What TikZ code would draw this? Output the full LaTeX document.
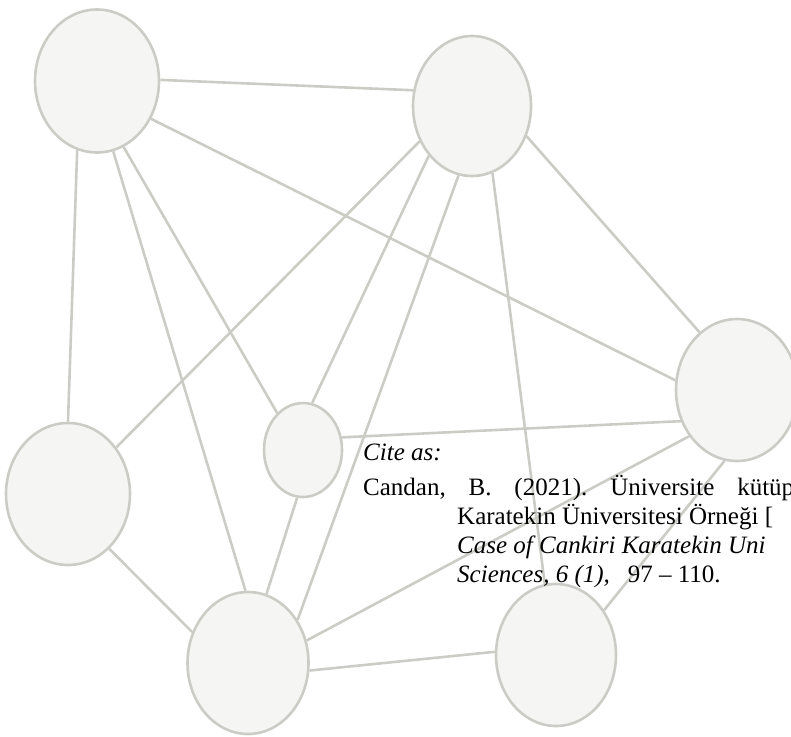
\documentclass[tikz,border=0pt]{standalone}
\usepackage{fontspec}
\setmainfont{Liberation Serif}
\usetikzlibrary{shapes.geometric}
\frenchspacing

\begin{document}
\begin{tikzpicture}[x=1pt,y=-1pt,
  bubble/.style={draw,line width=2.6pt,color=kLine,fill=kFill,ellipse,inner sep=0pt},
  link/.style={draw,line width=2.6pt,color=kLine},
  citeline/.style={anchor=base west,inner sep=0pt,font=\fontsize{25}{29}\selectfont}]
  % colors
  \definecolor{kLine}{rgb}{0.80,0.80,0.78}
  \definecolor{kFill}{rgb}{0.96,0.96,0.955}
  % frame
  \useasboundingbox (0,0) rectangle (791,736);
  \clip (0,0) rectangle (791,736);
  % nodes
  \foreach \n/\x/\y/\w/\h in {A/97/81/124/143, B/472/106/118/140, C/737/390/122/142,
      D/68/494/124/142, E/303/450/78/94, F/248/663/121/142, G/556/655/120/142}
    \node[bubble,minimum width=\w pt,minimum height=\h pt] (\n) at (\x,\y) {};
  % links
  \foreach \a/\b in {A.1/B.165, A.325/C.171, A.254/D.90, A.283/F.92, A.292/E.125,
      B.214/D.44, B.229/E.79, B.259/F.41, B.287/G.99, B.331/C.123,
      E.18/C.209, F.21/C.224, G.43/C.260, F.353/G.177, D.307/F.151, E.263/F.75}
    \draw[link] (\a) -- (\b);
  % citation
  \node[citeline] (cite) at (363,460) {\textit{Cite as:}};
  \node[citeline] (ref1) at (363,495) {\makebox[431pt][s]{Candan, B. (2021). Üniversite kütüp}};
  \node[citeline] (ref2) at (457,524) {Karatekin Üniversitesi Örneği [};
  \node[citeline] (ref3) at (457,553) {\textit{Case of Cankiri Karatekin Uni}};
  \node[citeline] (ref4) at (457,582) {\textit{Sciences, 6 (1),}\hspace{18pt}97 -- 110.};
\end{tikzpicture}
\end{document}
